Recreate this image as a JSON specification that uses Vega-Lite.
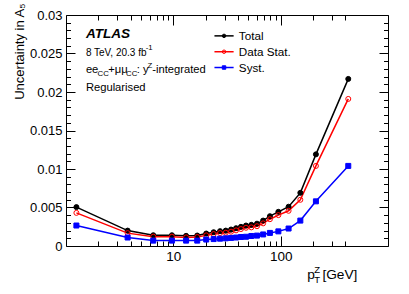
{
  "$schema": "https://vega.github.io/schema/vega-lite/v6.json",
  "width": 322,
  "height": 231,
  "autosize": {"type": "none"},
  "padding": {"left": 66, "top": 15, "right": 21, "bottom": 48},
  "config": {
    "view": {"stroke": "black", "strokeWidth": 1},
    "font": "Liberation Sans",
    "axis": {"grid": false, "domain": false, "labelFlush": false, "labelOverlap": false, "labelBound": false, "labelColor": "black", "tickColor": "black", "tickWidth": 1, "titleColor": "black", "labelFont": "Liberation Sans", "titleFont": "Liberation Sans", "titleFontWeight": "normal"}
  },
  "datasets": {
    "series": [
      {"pt": 1.25, "series": "Total", "value": 0.00505},
      {"pt": 3.75, "series": "Total", "value": 0.0020},
      {"pt": 6.5, "series": "Total", "value": 0.0014},
      {"pt": 9.7, "series": "Total", "value": 0.0014},
      {"pt": 13.15, "series": "Total", "value": 0.00132},
      {"pt": 16.7, "series": "Total", "value": 0.00136},
      {"pt": 20.25, "series": "Total", "value": 0.00162},
      {"pt": 23.75, "series": "Total", "value": 0.00179},
      {"pt": 27.25, "series": "Total", "value": 0.00193},
      {"pt": 30.8, "series": "Total", "value": 0.0020},
      {"pt": 34.5, "series": "Total", "value": 0.00214},
      {"pt": 38.4, "series": "Total", "value": 0.00231},
      {"pt": 42.65, "series": "Total", "value": 0.00249},
      {"pt": 47.55, "series": "Total", "value": 0.00266},
      {"pt": 53.3, "series": "Total", "value": 0.00275},
      {"pt": 60.15, "series": "Total", "value": 0.0029},
      {"pt": 68.65, "series": "Total", "value": 0.0033},
      {"pt": 79.4, "series": "Total", "value": 0.00387},
      {"pt": 95.2, "series": "Total", "value": 0.00444},
      {"pt": 118.5, "series": "Total", "value": 0.0051},
      {"pt": 152.5, "series": "Total", "value": 0.0069},
      {"pt": 213, "series": "Total", "value": 0.0119},
      {"pt": 426.5, "series": "Total", "value": 0.0217},
      {"pt": 1.25, "series": "Data Stat.", "value": 0.0043},
      {"pt": 3.75, "series": "Data Stat.", "value": 0.00167},
      {"pt": 6.5, "series": "Data Stat.", "value": 0.00121},
      {"pt": 9.7, "series": "Data Stat.", "value": 0.00121},
      {"pt": 13.15, "series": "Data Stat.", "value": 0.00112},
      {"pt": 16.7, "series": "Data Stat.", "value": 0.00117},
      {"pt": 20.25, "series": "Data Stat.", "value": 0.00138},
      {"pt": 23.75, "series": "Data Stat.", "value": 0.00155},
      {"pt": 27.25, "series": "Data Stat.", "value": 0.00168},
      {"pt": 30.8, "series": "Data Stat.", "value": 0.00173},
      {"pt": 34.5, "series": "Data Stat.", "value": 0.00186},
      {"pt": 38.4, "series": "Data Stat.", "value": 0.00203},
      {"pt": 42.65, "series": "Data Stat.", "value": 0.0022},
      {"pt": 47.55, "series": "Data Stat.", "value": 0.00237},
      {"pt": 53.3, "series": "Data Stat.", "value": 0.00242},
      {"pt": 60.15, "series": "Data Stat.", "value": 0.00257},
      {"pt": 68.65, "series": "Data Stat.", "value": 0.00294},
      {"pt": 79.4, "series": "Data Stat.", "value": 0.00348},
      {"pt": 95.2, "series": "Data Stat.", "value": 0.00401},
      {"pt": 118.5, "series": "Data Stat.", "value": 0.00457},
      {"pt": 152.5, "series": "Data Stat.", "value": 0.0060},
      {"pt": 213, "series": "Data Stat.", "value": 0.0104},
      {"pt": 426.5, "series": "Data Stat.", "value": 0.0191},
      {"pt": 1.25, "series": "Syst.", "value": 0.00266},
      {"pt": 3.75, "series": "Syst.", "value": 0.0011},
      {"pt": 6.5, "series": "Syst.", "value": 0.0007},
      {"pt": 9.7, "series": "Syst.", "value": 0.0007},
      {"pt": 13.15, "series": "Syst.", "value": 0.0007},
      {"pt": 16.7, "series": "Syst.", "value": 0.0007},
      {"pt": 20.25, "series": "Syst.", "value": 0.00084},
      {"pt": 23.75, "series": "Syst.", "value": 0.0009},
      {"pt": 27.25, "series": "Syst.", "value": 0.00095},
      {"pt": 30.8, "series": "Syst.", "value": 0.001},
      {"pt": 34.5, "series": "Syst.", "value": 0.00105},
      {"pt": 38.4, "series": "Syst.", "value": 0.0011},
      {"pt": 42.65, "series": "Syst.", "value": 0.00117},
      {"pt": 47.55, "series": "Syst.", "value": 0.0012},
      {"pt": 53.3, "series": "Syst.", "value": 0.0013},
      {"pt": 60.15, "series": "Syst.", "value": 0.00135},
      {"pt": 68.65, "series": "Syst.", "value": 0.0015},
      {"pt": 79.4, "series": "Syst.", "value": 0.0017},
      {"pt": 95.2, "series": "Syst.", "value": 0.0019},
      {"pt": 118.5, "series": "Syst.", "value": 0.00227},
      {"pt": 152.5, "series": "Syst.", "value": 0.0033},
      {"pt": 213, "series": "Syst.", "value": 0.0058},
      {"pt": 426.5, "series": "Syst.", "value": 0.0104}
    ],
    "legend": [
      {"series": "Total", "x1": 24.16, "x2": 36.45, "xm": 29.68, "xl": 40.76, "y": 0.02729, "label": "Total"},
      {"series": "Data Stat.", "x1": 24.16, "x2": 36.45, "xm": 29.68, "xl": 40.76, "y": 0.02523, "label": "Data Stat."},
      {"series": "Syst.", "x1": 24.16, "x2": 36.45, "xm": 29.68, "xl": 40.76, "y": 0.02318, "label": "Syst."}
    ],
    "atlas": [{"x": 1.532, "y": 0.02704, "text": "ATLAS"}],
    "lumi": [{"x": 1.532, "y": 0.02474, "text": "8 TeV, 20.3 fb"}],
    "notes": [
      {"x": 1.532, "y": 0.02249, "text": "ee"},
      {"x": 2.4757, "y": 0.02249, "text": "+μμ"},
      {"x": 4.560, "y": 0.02249, "text": ": y"},
      {"x": 6.357, "y": 0.02249, "text": "-integrated"},
      {"x": 1.532, "y": 0.02019, "text": "Regularised"}
    ],
    "scripts": [
      {"x": 5.528, "y": 0.02545, "text": "-1"},
      {"x": 1.9695, "y": 0.02208, "text": "CC"},
      {"x": 3.6282, "y": 0.02208, "text": "CC"},
      {"x": 5.737, "y": 0.02312, "text": "Z"}
    ],
    "xtitle": [
      {"x": 177.3, "y": -0.004286, "text": "p"},
      {"x": 244.9, "y": -0.00435, "text": "[GeV]"}
    ],
    "xtitlescripts": [
      {"x": 205.0, "y": -0.004805, "text": "T"},
      {"x": 205.9, "y": -0.003442, "text": "Z"}
    ]
  },
  "layer": [
    {
      "data": {"name": "series"},
      "mark": {"type": "line", "strokeWidth": 1.5},
      "encoding": {
        "x": {"field": "pt", "type": "quantitative", "scale": {"type": "log", "domain": [1.13, 462]},
          "axis": {"orient": "bottom", "values": [10, 100], "format": "~g", "ticks": false, "labelFontSize": 13.5, "labelPadding": 3, "title": null}},
        "y": {"field": "value", "type": "quantitative", "scale": {"domain": [0, 0.03], "zero": false, "nice": false},
          "axis": {"orient": "left", "values": [0, 0.005, 0.01, 0.015, 0.02, 0.025, 0.03], "format": "~g", "ticks": false, "labelFontSize": 13, "labelPadding": 4,
            "title": "Uncertainty in A₅", "titleFontSize": 13, "titleAngle": 270, "titleAlign": "right", "titleBaseline": "alphabetic", "titleX": -43, "titleY": -12}},
        "color": {"field": "series", "type": "nominal", "scale": {"domain": ["Total", "Data Stat.", "Syst."], "range": ["black", "red", "blue"]}, "legend": null}
      }
    },
    {
      "data": {"name": "series"},
      "mark": {"type": "point", "filled": true, "strokeWidth": 1, "opacity": 1},
      "encoding": {
        "x": {"field": "pt", "type": "quantitative", "scale": {"type": "log", "domain": [1.13, 462]},
          "axis": {"orient": "bottom", "values": [2, 3, 4, 5, 6, 7, 8, 9, 10, 20, 30, 40, 50, 60, 70, 80, 90, 100, 200, 300, 400], "labels": false, "title": null,
            "tickSize": {"condition": {"test": "datum.value == 10 || datum.value == 100", "value": -10}, "value": -5}}},
        "y": {"field": "value", "type": "quantitative", "scale": {"domain": [0, 0.03], "zero": false, "nice": false},
          "axis": {"orient": "left", "values": [0, 0.001, 0.002, 0.003, 0.004, 0.005, 0.006, 0.007, 0.008, 0.009, 0.01, 0.011, 0.012, 0.013, 0.014, 0.015, 0.016, 0.017, 0.018, 0.019, 0.02, 0.021, 0.022, 0.023, 0.024, 0.025, 0.026, 0.027, 0.028, 0.029, 0.03], "labels": false, "title": null,
            "tickSize": {"condition": {"test": "abs(datum.value * 200 - round(datum.value * 200)) < 0.01", "value": -9}, "value": -4.5}}},
        "shape": {"field": "series", "type": "nominal", "scale": {"domain": ["Total", "Data Stat.", "Syst."], "range": ["circle", "circle", "square"]}, "legend": null},
        "fill": {"field": "series", "type": "nominal", "scale": {"domain": ["Total", "Data Stat.", "Syst."], "range": ["black", "transparent", "blue"]}, "legend": null},
        "stroke": {"field": "series", "type": "nominal", "scale": {"domain": ["Total", "Data Stat.", "Syst."], "range": ["black", "red", "blue"]}, "legend": null},
        "size": {"value": 25}
      }
    },
    {
      "data": {"name": "legend"},
      "mark": {"type": "rule", "strokeWidth": 1.5},
      "encoding": {
        "x": {"field": "x1", "type": "quantitative", "scale": {"type": "log", "domain": [1.13, 462]},
          "axis": {"orient": "top", "values": [2, 3, 4, 5, 6, 7, 8, 9, 10, 20, 30, 40, 50, 60, 70, 80, 90, 100, 200, 300, 400], "labels": false, "title": null,
            "tickSize": {"condition": {"test": "datum.value == 10 || datum.value == 100", "value": -10}, "value": -5}}},
        "x2": {"field": "x2"},
        "y": {"field": "y", "type": "quantitative", "scale": {"domain": [0, 0.03], "zero": false, "nice": false},
          "axis": {"orient": "right", "values": [0, 0.001, 0.002, 0.003, 0.004, 0.005, 0.006, 0.007, 0.008, 0.009, 0.01, 0.011, 0.012, 0.013, 0.014, 0.015, 0.016, 0.017, 0.018, 0.019, 0.02, 0.021, 0.022, 0.023, 0.024, 0.025, 0.026, 0.027, 0.028, 0.029, 0.03], "labels": false, "title": null,
            "tickSize": {"condition": {"test": "abs(datum.value * 200 - round(datum.value * 200)) < 0.01", "value": -9}, "value": -4.5}}},
        "color": {"field": "series", "type": "nominal", "scale": {"domain": ["Total", "Data Stat.", "Syst."], "range": ["black", "red", "blue"]}, "legend": null}
      }
    },
    {
      "data": {"name": "legend"},
      "mark": {"type": "point", "filled": true, "strokeWidth": 1, "opacity": 1},
      "encoding": {
        "x": {"field": "xm", "type": "quantitative", "axis": null},
        "y": {"field": "y", "type": "quantitative", "axis": null},
        "shape": {"field": "series", "type": "nominal", "legend": null},
        "fill": {"field": "series", "type": "nominal", "legend": null},
        "stroke": {"field": "series", "type": "nominal", "legend": null},
        "size": {"value": 12}
      }
    },
    {
      "data": {"name": "legend"},
      "mark": {"type": "text", "align": "left", "baseline": "middle", "fontSize": 11.7, "color": "black"},
      "encoding": {
        "x": {"field": "xl", "type": "quantitative", "axis": null},
        "y": {"field": "y", "type": "quantitative", "axis": null},
        "text": {"field": "label"}
      }
    },
    {
      "data": {"name": "atlas"},
      "mark": {"type": "text", "align": "left", "baseline": "alphabetic", "fontSize": 13.6, "fontWeight": "bold", "fontStyle": "italic", "color": "black"},
      "encoding": {
        "x": {"field": "x", "type": "quantitative", "axis": null},
        "y": {"field": "y", "type": "quantitative", "axis": null},
        "text": {"field": "text"}
      }
    },
    {
      "data": {"name": "lumi"},
      "mark": {"type": "text", "align": "left", "baseline": "alphabetic", "fontSize": 10, "color": "black"},
      "encoding": {
        "x": {"field": "x", "type": "quantitative", "axis": null},
        "y": {"field": "y", "type": "quantitative", "axis": null},
        "text": {"field": "text"}
      }
    },
    {
      "data": {"name": "notes"},
      "mark": {"type": "text", "align": "left", "baseline": "alphabetic", "fontSize": 11.2, "color": "black"},
      "encoding": {
        "x": {"field": "x", "type": "quantitative", "axis": null},
        "y": {"field": "y", "type": "quantitative", "axis": null},
        "text": {"field": "text"}
      }
    },
    {
      "data": {"name": "scripts"},
      "mark": {"type": "text", "align": "left", "baseline": "alphabetic", "fontSize": 7.8, "color": "black"},
      "encoding": {
        "x": {"field": "x", "type": "quantitative", "axis": null},
        "y": {"field": "y", "type": "quantitative", "axis": null},
        "text": {"field": "text"}
      }
    },
    {
      "data": {"name": "xtitle"},
      "mark": {"type": "text", "align": "left", "baseline": "alphabetic", "fontSize": 13.7, "color": "black"},
      "encoding": {
        "x": {"field": "x", "type": "quantitative", "axis": null},
        "y": {"field": "y", "type": "quantitative", "axis": null},
        "text": {"field": "text"}
      }
    },
    {
      "data": {"name": "xtitlescripts"},
      "mark": {"type": "text", "align": "left", "baseline": "alphabetic", "fontSize": 9.5, "color": "black"},
      "encoding": {
        "x": {"field": "x", "type": "quantitative", "axis": null},
        "y": {"field": "y", "type": "quantitative", "axis": null},
        "text": {"field": "text"}
      }
    }
  ],
  "resolve": {"axis": {"x": "independent", "y": "independent"}}
}
